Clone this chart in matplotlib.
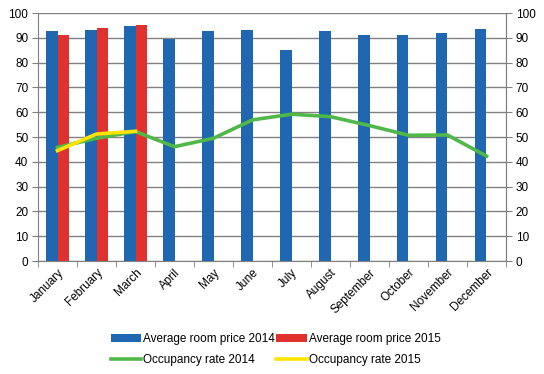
import matplotlib
matplotlib.use("Agg")
import matplotlib.pyplot as plt
import numpy as np

plt.rcParams['font.family'] = ['Liberation Sans', 'DejaVu Sans']

months = ["January", "February", "March", "April", "May", "June", "July",
          "August", "September", "October", "November", "December"]
price_2014 = [92.7, 93.1, 94.8, 89.5, 92.7, 93.1, 85.1, 92.7, 91.1, 91.1, 91.8, 93.4]
price_2015 = [91.1, 94.0, 95.2]
occ_2014 = [45.8, 49.5, 52.2, 46.1, 49.5, 56.9, 59.2, 58.2, 54.6, 50.7, 50.8, 42.3]
occ_2015 = [44.5, 51.2, 52.3]

c_blue = "#1F67B1"
c_red = "#E0312F"
c_green = "#50B848"
c_yellow = "#FFE400"
c_grid = "#808080"

fig = plt.figure(figsize=(5.44, 3.74), dpi=100)
ax = fig.add_axes([38/544, 1-261/374, 468/544, 248/374])

x = np.arange(len(months))
w = 0.295
b1 = ax.bar(x - w/2, price_2014, width=w, color=c_blue, label="Average room price 2014", zorder=2)
b2 = ax.bar(np.arange(len(price_2015)) + w/2, price_2015, width=w, color=c_red,
            label="Average room price 2015", zorder=2)
l1, = ax.plot(x, occ_2014, color=c_green, lw=2.6, label="Occupancy rate 2014", zorder=3)
l2, = ax.plot(np.arange(len(occ_2015)), occ_2015, color=c_yellow, lw=2.6,
              label="Occupancy rate 2015", zorder=4)

ax.set_xlim(-0.5, len(months) - 0.5)
ax.set_ylim(0, 100)
ax.set_yticks(range(0, 101, 10))
ax.yaxis.grid(True, color=c_grid, lw=1)
ax.set_axisbelow(True)

ax.set_xticks(x)
ax.set_xticklabels(months, rotation=45, ha="right", rotation_mode="anchor", fontsize=8.5)
ax.tick_params(axis="x", length=0, pad=4)
ax.set_xticks(np.arange(-0.5, len(months)), minor=True)
ax.tick_params(axis="x", which="minor", length=4, color=c_grid)

ax.tick_params(axis="y", labelsize=8.5, length=4, color=c_grid, pad=3)
ax.spines["top"].set_visible(False)
for s in ["left", "right", "bottom"]:
    ax.spines[s].set_color(c_grid)

ax2 = ax.twinx()
ax2.set_ylim(0, 100)
ax2.set_yticks(range(0, 101, 10))
ax2.tick_params(axis="y", labelsize=8.5, length=4, color=c_grid, pad=3)
for s in ["top", "left", "bottom"]:
    ax2.spines[s].set_visible(False)
ax2.spines["right"].set_color(c_grid)

fig.legend([b1, l1, b2, l2],
           ["Average room price 2014", "Occupancy rate 2014",
            "Average room price 2015", "Occupancy rate 2015"],
           ncol=2, loc="lower left", bbox_to_anchor=(100/544, -0.008), frameon=False,
           fontsize=8.5, handlelength=2.6, handleheight=0.6, columnspacing=0.1,
           handletextpad=0.15, labelspacing=0.8)

fig.savefig("out.png", dpi=100)
